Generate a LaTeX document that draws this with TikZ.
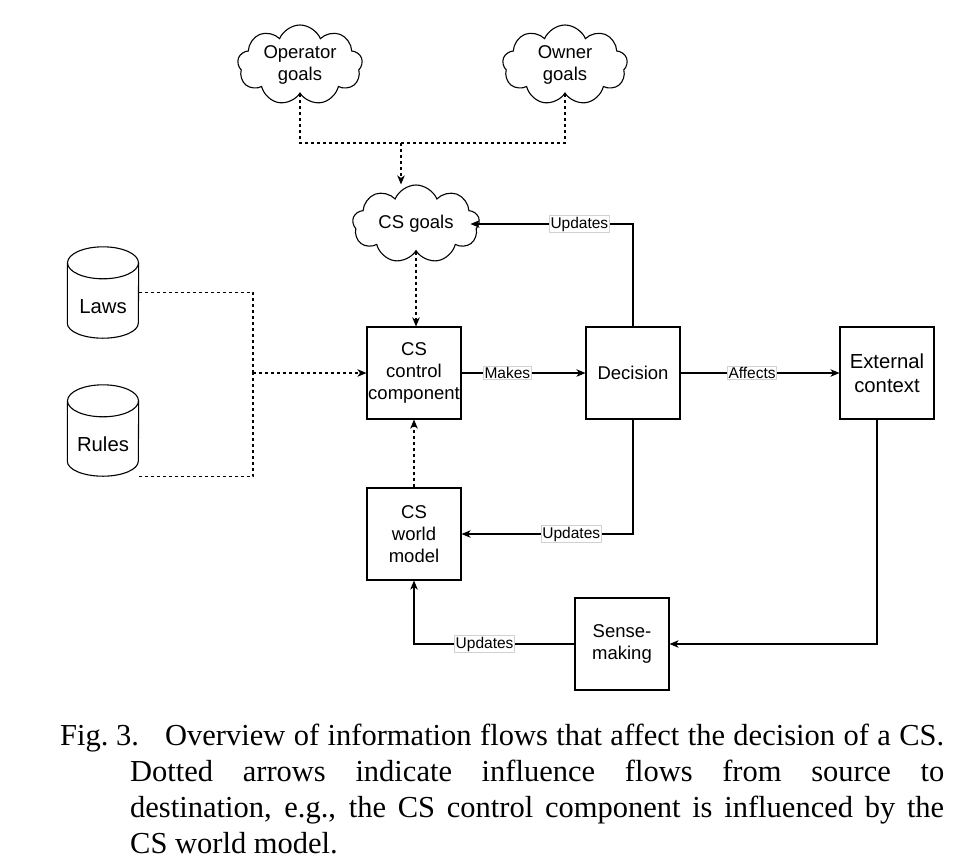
\documentclass[tikz,border=0pt]{standalone}
\usepackage{fontspec}
\setmainfont{Liberation Serif}
\newfontfamily\nodefont{Liberation Sans}
\usetikzlibrary{shapes.symbols,arrows.meta}
\begin{document}
\begin{tikzpicture}[x=1pt,y=-1pt,
  every node/.style={font=\nodefont\fontsize{18.5}{22}\selectfont},
  bigtext/.style={font=\nodefont\fontsize{20.3}{24}\selectfont},
  box/.style={draw, line width=1.1pt, minimum width=94pt, minimum height=92pt, inner sep=0pt, align=center},
  cloudnode/.style={cloud, draw, line width=1.1pt, cloud puffs=9, cloud puff arc=135, cloud ignores aspect, minimum width=125pt, minimum height=80pt, inner sep=0pt, align=center},
  cyl/.style={minimum width=71pt, minimum height=91pt, inner sep=0pt},
  shapeline/.style={line width=1.1pt},
  flow/.style={line width=1.1pt, -{Stealth[length=9pt,width=7.5pt,inset=2.5pt]}},
  infl/.style={flow, dash pattern=on 3pt off 3pt},
  infline/.style={line width=1.1pt, dash pattern=on 3pt off 3pt},
  lbl/.style={font=\nodefont\fontsize{15.5}{17}\selectfont, fill=white, draw=black!18, line width=0.6pt, inner sep=1pt}
]
\useasboundingbox (0,0) rectangle (976,860);

% nodes
\node[cloudnode] (op) at (300,65) {Operator\\goals};
\node[cloudnode] (ow) at (565,65) {Owner\\goals};
\node[cloudnode, minimum width=127pt, minimum height=78pt] (csg) at (416,224) {CS goals};
\node[box] (ctrl) at (414,373) {CS\\control\\component};
\node[box] (dec) at (633,373) {Decision};
\node[box, bigtext] (ext) at (887,373) {External\\context};
\node[box] (wm) at (414,534) {CS\\world\\model};
\node[box] (sm) at (622,644) {Sense-\\making};
\node[cyl, label={[bigtext, yshift=-14pt]center:Laws}] (laws) at (103,292.5) {};
\node[cyl, label={[bigtext, yshift=-14pt]center:Rules}] (rules) at (103,430.5) {};

% cylinders
\foreach \c in {laws,rules} {
  \draw[shapeline] ([yshift=-16pt]\c.north) ellipse [x radius=35.5pt, y radius=16pt];
  \draw[shapeline] ([yshift=-16pt]\c.north west) -- ([yshift=15pt]\c.south west)
     arc [start angle=180, end angle=360, x radius=35.5pt, y radius=15pt]
     -- ([yshift=-16pt]\c.north east);
}

% influence flows (dashed)
\coordinate (j1) at (401,143);
\draw[infline] (op.south) |- (j1);
\draw[infline] (ow.south) |- (j1);
\draw[infl] (j1) -- (j1 |- csg.north);
\draw[infl] (csg.south) -- (csg.south |- ctrl.north);
\coordinate (j2) at (253,373);
\draw[infline] (laws.east) -| (j2);
\draw[infline] (rules.south east) -| (j2);
\draw[infl] (j2) -- (ctrl.west);
\draw[infl] (wm.north) -- (ctrl.south);

% solid flows
\draw[flow] (ctrl) -- node[lbl, pos=0.37] {Makes} (dec);
\draw[flow] (dec) -- node[lbl, pos=0.45] {Affects} (ext);
\draw[flow] (dec.north) |- node[lbl, pos=0.665] {Updates} ([xshift=-9pt]csg.east);
\draw[flow] (dec.south) |- node[lbl, pos=0.68] {Updates} (wm.east);
\draw[flow] ([xshift=-10pt]ext.south) |- (sm.east);
\draw[flow] (sm.west) -| node[lbl, pos=0.28] {Updates} (wm.south);

% caption
\node[anchor=base west, inner sep=0pt, font=\rmfamily\fontsize{30.5}{36}\selectfont] (cap) at (60,745)
  {\parbox[t]{884pt}{\hangindent=70pt\hangafter=1 \makebox[105pt][l]{Fig.~3.}Overview of information flows that affect the decision of a CS.\linebreak Dotted arrows indicate influence flows from source to\linebreak destination, e.g., the CS control component is influenced by the\linebreak CS world model.}};
\end{tikzpicture}
\end{document}
